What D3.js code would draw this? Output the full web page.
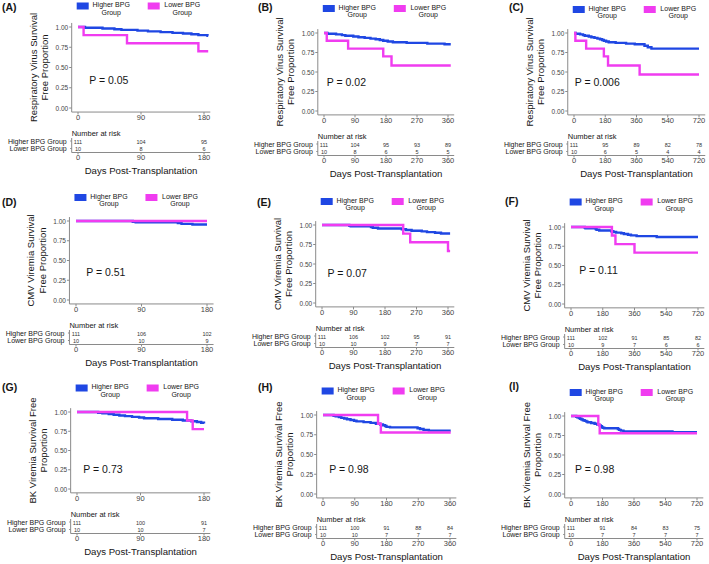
<!DOCTYPE html>
<html><head><meta charset="utf-8">
<script src="https://cdn.jsdelivr.net/npm/d3@7"></script>
<style>body{margin:0;background:#fff}svg{display:block}text{font-family:"Liberation Sans",Arial,Helvetica,sans-serif}</style>
</head><body><svg id="c" width="709" height="564"></svg>
<script>
// ---------- DATA ----------
const groupNames = ["Higher BPG Group", "Lower BPG Group"];
const legendLabels = [["Higher BPG", "Group"], ["Lower BPG", "Group"]];
const panelLetters = ["(A)", "(B)", "(C)", "(D)", "(E)", "(F)", "(G)", "(H)", "(I)"];
const yTitles = [
  ["Respiratory Virus Survival", "Free Proportion"],
  ["CMV Viremia Survival", "Free Proportion"],
  ["BK Viremia Survival Free", "Proportion"]
];
const pValues = ["P = 0.05", "P = 0.02", "P = 0.006", "P = 0.51", "P = 0.07", "P = 0.11", "P = 0.73", "P = 0.98", "P = 0.98"];
const yTicks = [0, 0.25, 0.5, 0.75, 1];
const xTicks180 = [0, 90, 180];
const xTicks360 = [0, 90, 180, 270, 360];
const xTicks720 = [0, 180, 360, 540, 720];
const xLabel = "Days Post-Transplantation";
const riskTitle = "Number at risk";

// Kaplan-Meier steps [day, survival after event]
const respHigh = [[0,1],[10,0.991],[35,0.982],[52,0.973],[62,0.964],[85,0.955],[100,0.946],[118,0.937],[135,0.928],[150,0.919],[162,0.91],[172,0.9],[185,0.891],[200,0.882],[240,0.873],[300,0.864],[350,0.855],[406,0.836],[425,0.818],[446,0.8]];
const respLow  = [[0,1],[8,0.9],[70,0.8],[172,0.7],[196,0.583],[378,0.467]];
const cmvHigh  = [[0,1],[78,0.991],[82,0.982],[140,0.973],[145,0.964],[160,0.955],[228,0.945],[240,0.936],[256,0.927],[285,0.918],[300,0.909],[323,0.9],[340,0.891],[372,0.882],[486,0.871]];
const cmvLow   = [[0,1],[232,0.889],[252,0.778],[360,0.667]];
const bkHigh   = [[0,1],[30,0.991],[36,0.982],[45,0.973],[52,0.964],[60,0.955],[68,0.946],[78,0.937],[88,0.928],[95,0.919],[115,0.91],[135,0.9],[150,0.89],[162,0.88],[170,0.87],[176,0.86],[180,0.85],[190,0.843],[268,0.833],[275,0.822],[285,0.812],[300,0.802],[580,0.792]];
const bkLow    = [[0,1],[156,0.889],[164,0.778]];
const endDays  = [186, 368, 720, 180, 366, 720, 180, 362, 720];

const riskHigh = [[111,104,95],[111,104,95,93,89],[111,95,89,82,78],
                  [111,106,102],[111,106,102,95,91],[111,102,91,85,82],
                  [111,100,91],[111,100,91,88,84],[111,91,84,83,75]];
const riskLow  = [[10,8,6],[10,8,6,5,5],[10,6,5,4,4],
                  [10,10,9],[10,10,9,7,7],[10,9,7,6,6],
                  [10,10,7],[10,10,7,7,7],[10,7,7,7,7]];

// ---------- LAYOUT / STYLE ----------
const colors = ["#1f47e3", "#f03cf0"];
const layout = [
  {x0:78, x1:204, y1:27, y0:108, letter:[2,7], legY:4.5, p:[16,0.35]},
  {x0:324,x1:448, y1:33, y0:111, letter:[258,7], legY:7, p:[8,0.375]},
  {x0:574,x1:699, y1:33, y0:111, letter:[509,7], legY:8, p:[4,0.375]},
  {x0:76, x1:207, y1:221,y0:300, letter:[2,202], legY:196, p:[14,0.35]},
  {x0:322,x1:448, y1:225,y0:303, letter:[257,202], legY:200, p:[16,0.39]},
  {x0:571,x1:698, y1:227,y0:304, letter:[505,201], legY:200.5, p:[47,0.44]},
  {x0:77, x1:204, y1:412,y0:489, letter:[2,387], legY:386.5, p:[9,0.26]},
  {x0:323,x1:450, y1:415,y0:494, letter:[258,387], legY:389.5, p:[18,0.32]},
  {x0:571,x1:697, y1:416,y0:494, letter:[509,386], legY:391, p:[23,0.32]}
];

const svg = d3.select("#c");
const outcomes = [[respHigh, respLow], [cmvHigh, cmvLow], [bkHigh, bkLow]];
const horizonTicks = [xTicks180, xTicks360, xTicks720];
const axisCol = "#8a8a8a", tickTextCol = "#444", textCol = "#161616";

function truncate(steps, end) {
  const pts = steps.filter(d => d[0] <= end);
  pts.push([end, pts[pts.length - 1][1]]);
  return pts;
}

layout.forEach((L, i) => {
  const row = Math.floor(i / 3), col = i % 3;
  const ticks = horizonTicks[col];
  const tmax = ticks[ticks.length - 1];
  const x = d3.scaleLinear().domain([0, tmax]).range([L.x0, L.x1]);
  const y = d3.scaleLinear().domain([0, 1]).range([L.y0, L.y1]);
  const pad = 0.05 * (L.x1 - L.x0), padY = 0.05 * (L.y0 - L.y1);
  const left = L.x0 - pad, right = L.x1 + pad;
  const top = L.y1 - padY, bottom = L.y0 + padY;
  const g = svg.append("g");

  // panel letter
  g.append("text").attr("x", L.letter[0]).attr("y", L.letter[1]).attr("dominant-baseline", "central")
    .attr("font-size", 10.5).attr("font-weight", "bold").attr("fill", textCol).text(panelLetters[i]);

  // legend
  [0, 1].forEach(k => {
    const sx = left + (k === 0 ? 5 : 76);
    g.append("rect").attr("x", sx).attr("y", L.legY - 2).attr("width", 12).attr("height", 7).attr("fill", colors[k]);
    legendLabels[k].forEach((t, j) => {
      g.append("text").attr("x", sx + 34.5).attr("y", L.legY + j * 7.5).attr("dominant-baseline", "central")
        .attr("text-anchor", "middle").attr("font-size", 7).attr("fill", textCol).text(t);
    });
  });

  // axes lines
  g.append("line").attr("x1", left).attr("x2", left).attr("y1", top).attr("y2", bottom).attr("stroke", axisCol).attr("stroke-width", 1);
  g.append("line").attr("x1", left).attr("x2", right).attr("y1", bottom).attr("y2", bottom).attr("stroke", axisCol).attr("stroke-width", 1);

  // y ticks
  yTicks.forEach(v => {
    g.append("line").attr("x1", left - 2.5).attr("x2", left).attr("y1", y(v)).attr("y2", y(v)).attr("stroke", axisCol);
    g.append("text").attr("x", left - 3.5).attr("y", y(v)).attr("dominant-baseline", "central").attr("text-anchor", "end")
      .attr("font-size", 6.5).attr("fill", tickTextCol).text(d3.format(".2f")(v));
  });
  // x ticks
  ticks.forEach(t => {
    g.append("line").attr("x1", x(t)).attr("x2", x(t)).attr("y1", bottom).attr("y2", bottom + 2.5).attr("stroke", axisCol);
    g.append("text").attr("x", x(t)).attr("y", L.y0 + 9.5).attr("dominant-baseline", "central").attr("text-anchor", "middle")
      .attr("font-size", 7.5).attr("fill", tickTextCol).text(t);
  });

  // y title
  const yc = (L.y0 + L.y1) / 2;
  yTitles[row].forEach((t, j) => {
    const tx = left + (j === 0 ? -38.5 : -27);
    g.append("text").attr("transform", `translate(${tx},${yc}) rotate(-90)`).attr("dominant-baseline", "central")
      .attr("text-anchor", "middle").attr("font-size", 9.5).attr("fill", textCol).text(t);
  });

  // curves
  const line = d3.line().x(d => x(d[0])).y(d => y(d[1])).curve(d3.curveStepAfter);
  outcomes[row].forEach((steps, k) => {
    g.append("path").attr("d", line(truncate(steps, endDays[i]))).attr("fill", "none")
      .attr("stroke", colors[k]).attr("stroke-width", 2.4).attr("stroke-linejoin", "miter");
  });

  // p value
  g.append("text").attr("x", x(L.p[0])).attr("y", y(L.p[1])).attr("dominant-baseline", "central")
    .attr("font-size", 10.5).attr("fill", textCol).text(pValues[i]);

  // risk table
  const rTitleY = L.y0 + 25.5, rH = L.y0 + 33, rL = L.y0 + 40.5, rLine = L.y0 + 44.5;
  g.append("text").attr("x", left).attr("y", rTitleY).attr("dominant-baseline", "central")
    .attr("font-size", 7.5).attr("fill", textCol).text(riskTitle);
  [rH, rL].forEach((ry, k) => {
    g.append("text").attr("x", left - 5).attr("y", ry).attr("dominant-baseline", "central").attr("text-anchor", "end")
      .attr("font-size", 7).attr("fill", textCol).text(groupNames[k]);
    g.append("line").attr("x1", left - 1.5).attr("x2", left).attr("y1", ry).attr("y2", ry).attr("stroke", axisCol);
  });
  g.append("line").attr("x1", left).attr("x2", left).attr("y1", rH - 3).attr("y2", rLine).attr("stroke", axisCol);
  g.append("line").attr("x1", left).attr("x2", right).attr("y1", rLine).attr("y2", rLine).attr("stroke", axisCol);
  ticks.forEach((t, j) => {
    g.append("text").attr("x", x(t)).attr("y", rH + 0.5).attr("dominant-baseline", "central").attr("text-anchor", "middle")
      .attr("font-size", 5.5).attr("fill", "#333").text(riskHigh[i][j]);
    g.append("text").attr("x", x(t)).attr("y", rL).attr("dominant-baseline", "central").attr("text-anchor", "middle")
      .attr("font-size", 5.5).attr("fill", "#333").text(riskLow[i][j]);
    g.append("line").attr("x1", x(t)).attr("x2", x(t)).attr("y1", rLine).attr("y2", rLine + 2).attr("stroke", axisCol);
    g.append("text").attr("x", x(t)).attr("y", L.y0 + 49.5).attr("dominant-baseline", "central").attr("text-anchor", "middle")
      .attr("font-size", 7.5).attr("fill", tickTextCol).text(t);
  });

  // x title
  g.append("text").attr("x", (left + right) / 2).attr("y", L.y0 + 62.5).attr("dominant-baseline", "central")
    .attr("text-anchor", "middle").attr("font-size", 9.6).attr("fill", textCol).text(xLabel);
});
</script></body></html>
